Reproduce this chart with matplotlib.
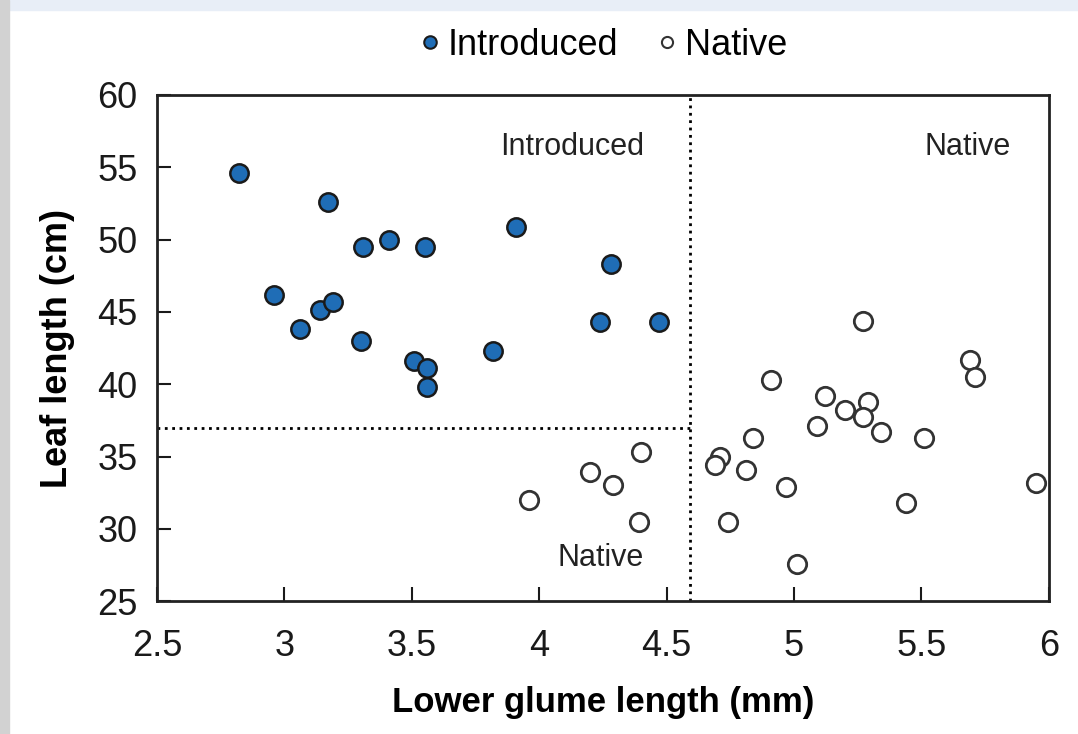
import matplotlib
matplotlib.use('Agg')
import matplotlib.pyplot as plt
from matplotlib.patches import Rectangle
from matplotlib.lines import Line2D

plt.rcParams['font.family'] = ['Liberation Sans', 'DejaVu Sans']

introcol = '#1f6db6'
edgecol = '#1a1a1a'
nativecol = '#333333'

# introduced accessions
intro_glume = [2.82, 3.17, 3.31, 3.41, 3.55, 3.91, 4.28, 2.96, 3.06, 3.14,
               3.19, 3.30, 3.51, 3.56, 3.56, 3.82, 4.24, 4.47]
intro_leaf = [54.6, 52.6, 49.5, 50.0, 49.5, 50.9, 48.3, 46.2, 43.8, 45.1,
              45.7, 43.0, 41.6, 41.1, 39.8, 42.3, 44.3, 44.3]

# native accessions
native_glume = [3.96, 4.20, 4.29, 4.40, 4.39,
                5.27, 5.69, 5.71, 4.91, 5.12, 5.29, 5.20, 5.27, 5.09, 5.34,
                5.51, 4.84, 4.71, 4.69, 4.81, 4.97, 5.95, 5.44, 4.74, 5.01]
native_leaf = [32.0, 33.9, 33.0, 35.3, 30.5,
               44.4, 41.7, 40.5, 40.3, 39.2, 38.8, 38.2, 37.7, 37.1, 36.7,
               36.3, 36.3, 35.0, 34.4, 34.1, 32.9, 33.2, 31.8, 30.5, 27.6]

xsplit = 4.59
ysplit = 37

fig = plt.figure(figsize=(10.78, 7.34), dpi=100)
fig.patch.set_facecolor('white')
# screenshot border
fig.patches.append(Rectangle((0, 1 - 10/734), 1, 10/734, transform=fig.transFigure,
                             color='#e8eef7', zorder=0))
fig.patches.append(Rectangle((0, 0), 9/1078, 1, transform=fig.transFigure,
                             color='#d2d2d2', zorder=0))

ax = fig.add_axes([0.1456, 0.181, 0.8274, 0.6896])

ax.scatter(intro_glume, intro_leaf, s=175, color=introcol, edgecolor=edgecol,
           linewidth=1.8, zorder=3)
ax.scatter(native_glume, native_leaf, s=175, facecolor='white', edgecolor=nativecol,
           linewidth=2.0, zorder=3)

ax.plot([xsplit, xsplit], [25, 60], color='black', linestyle=':', linewidth=2, zorder=2)
ax.plot([2.5, xsplit], [ysplit, ysplit], color='black', linestyle=':', linewidth=2, zorder=2)

ax.text(4.13, 56.4, 'Introduced', fontsize=22, ha='center', va='center', color='#222222')
ax.text(5.68, 56.4, 'Native', fontsize=22, ha='center', va='center', color='#222222')
ax.text(4.24, 28.0, 'Native', fontsize=22, ha='center', va='center', color='#222222')

ax.set_xlim(2.5, 6)
ax.set_ylim(25, 60)
ax.set_xticks([2.5, 3, 3.5, 4, 4.5, 5, 5.5, 6])
ax.set_xticklabels(['2.5', '3', '3.5', '4', '4.5', '5', '5.5', '6'])
ax.set_yticks([25, 30, 35, 40, 45, 50, 55, 60])
ax.tick_params(direction='in', length=10, width=1.5, labelsize=26, pad=20, colors='#1a1a1a')
ax.tick_params(axis='y', pad=14)
for s in ax.spines.values():
    s.set_linewidth(2)
    s.set_color('#222222')

ax.set_xlabel('Lower glume length (mm)', fontsize=25, fontweight='bold', labelpad=16)
ax.set_ylabel('Leaf length (cm)', fontsize=26, fontweight='bold', labelpad=16)

handles = [Line2D([], [], linestyle='none', marker='o', markersize=9,
                  markerfacecolor=introcol, markeredgecolor=edgecol, markeredgewidth=1.5),
           Line2D([], [], linestyle='none', marker='o', markersize=8,
                  markerfacecolor='white', markeredgecolor=nativecol, markeredgewidth=1.5)]
fig.legend(handles, ['Introduced', 'Native'], loc='center', bbox_to_anchor=(0.557, 0.938),
           ncol=2, frameon=False, fontsize=26, handletextpad=0.05, columnspacing=0.9,
           handlelength=0.9)

fig.savefig('out.png', dpi=100)
